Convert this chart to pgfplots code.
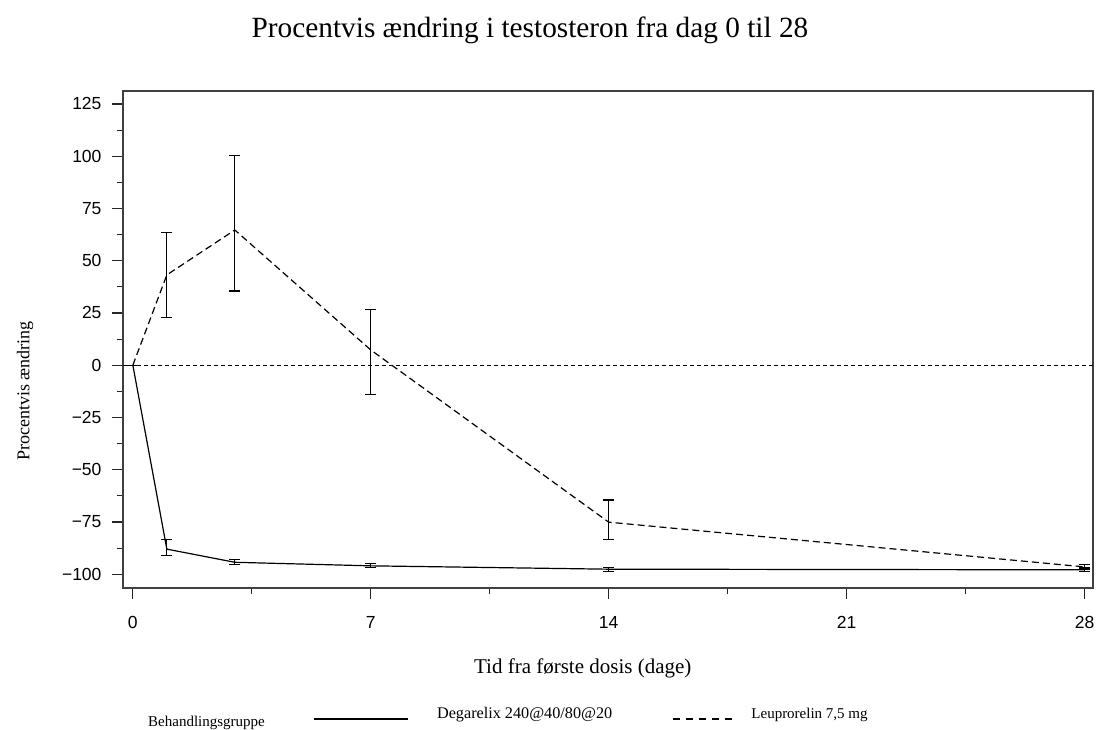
\documentclass[border=0pt]{standalone}
\usepackage{fontspec}
\setmainfont{Liberation Serif}
\setsansfont{Liberation Sans}
\usepackage{pgfplots}
\pgfplotsset{compat=1.18}
\usepackage{pgfplotstable}

\pgfplotsset{
  solidlegend/.style={legend image code/.code={\draw[black, line width=1.2pt] (0pt,0pt) -- (94pt,0pt);}},
  dashedlegend/.style={legend image code/.code={\draw[black, line width=1.2pt, dash pattern=on 7pt off 6pt] (0pt,0pt) -- (61pt,0pt);}},
}

\pgfplotstableread{
x y ep em
0 0 0 0
1 -88.0 4.4 3.2
3 -94.3 1.5 1.2
7 -96.0 1.0 1.0
14 -97.6 0.9 0.9
28 -97.9 1.0 1.0
}\degarelix
\pgfplotstableread{
x y ep em
0 0 0 0
1 43.2 20.4 20.4
3 64.7 35.6 29.2
7 7.3 19.5 21.5
14 -75.1 10.6 8.2
28 -96.5 1.0 1.0
}\leuprorelin

\begin{document}
\begin{tikzpicture}
\useasboundingbox (0,0) rectangle (1096pt,729pt);
\node[anchor=base, font=\fontsize{29.3}{33}\selectfont] at (530pt,691pt) {Procentvis ændring i testosteron fra dag 0 til 28};
\begin{axis}[
  at={(123pt,141pt)}, anchor=south west,
  scale only axis, width=970pt, height=497pt,
  xmin=-0.29, xmax=28.25, ymin=-106.6, ymax=131.2,
  axis line style={black!75, line width=1.3pt},
  tick align=outside, tick pos=left,
  major tick length=11pt, minor tick length=6pt,
  every tick/.style={black!85, line width=1.1pt},
  xtick={0,7,14,21,28}, xticklabels={0,7,14,21,28},
  minor xtick={3.5,10.5,17.5,24.5},
  ytick={-100,-75,-50,-25,0,25,50,75,100,125},
  yticklabels={−100,−75,−50,−25,0,25,50,75,100,125},
  minor ytick={-87.5,-62.5,-37.5,-12.5,12.5,37.5,62.5,87.5,112.5},
  ticklabel style={font=\fontsize{17.5}{20}\selectfont\sffamily},
  yticklabel style={xshift=-7pt},
  xticklabel style={yshift=-14pt},
  xlabel={Tid fra første dosis (dage)},
  xlabel style={at={(axis description cs:0.474,-0.173)}, anchor=base, font=\fontsize{21}{24}\selectfont},
  ylabel={Procentvis ændring},
  ylabel style={at={(axis description cs:-0.101,0.396)}, anchor=center, font=\fontsize{18}{21}\selectfont},
  legend style={at={(axis description cs:0.0258,-0.2636)}, anchor=west, draw=none, fill=none,
    font=\fontsize{15}{17}\selectfont, inner sep=0pt, column sep=0pt, nodes={inner sep=0pt},
    /tikz/every even column/.style={column sep=0pt}},
  legend columns=-1, legend cell align=left,
]
\addplot[black, line width=1pt, dash pattern=on 4pt off 3pt, forget plot] coordinates {(-0.29,0) (28.25,0)};
\addplot[black, line width=1.2pt, forget plot,
  error bars/.cd, y dir=both, y explicit,
  error bar style={line width=1.1pt, solid},
  error mark options={black, rotate=90, mark size=5.5pt, line width=1.1pt, solid}]
  table[x=x, y=y, y error plus=ep, y error minus=em] {\degarelix};
\addplot[black, line width=1.2pt, dash pattern=on 7pt off 4pt, forget plot,
  error bars/.cd, y dir=both, y explicit,
  error bar style={line width=1.1pt, solid},
  error mark options={black, rotate=90, mark size=5.5pt, line width=1.1pt, solid}]
  table[x=x, y=y, y error plus=ep, y error minus=em] {\leuprorelin};
\addlegendimage{empty legend}
\addlegendentry{\raisebox{-7pt}{Behandlingsgruppe}\kern49pt}
\addlegendimage{solidlegend}
\addlegendentry{\kern28pt\raisebox{10pt}{\fontsize{16.2}{18}\selectfont Degarelix 240@40/80@20}\kern60pt}
\addlegendimage{dashedlegend}
\addlegendentry{\kern17pt\raisebox{10pt}{\fontsize{15}{17}\selectfont Leuprorelin 7,5 mg}}
\end{axis}
\end{tikzpicture}
\end{document}
